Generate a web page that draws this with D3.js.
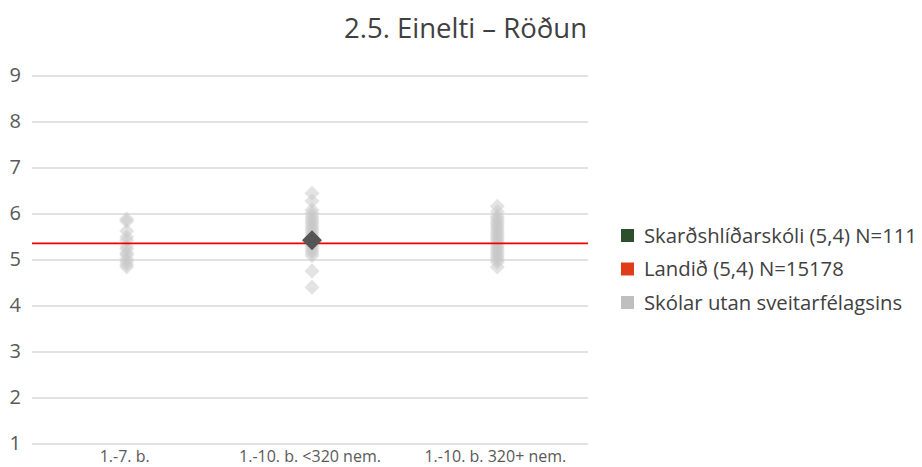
<!DOCTYPE html>
<html><head><meta charset="utf-8">
<script src="https://cdn.jsdelivr.net/npm/d3@7"></script>
<style>body{margin:0;background:#fff;}svg{display:block;font-family:"Open Sans","Noto Sans",sans-serif;}</style>
</head><body>
<svg id="c" width="922" height="467"></svg>
<script>
const title = "2.5. Einelti – Röðun";
const categories = ["1.-7. b.", "1.-10. b. <320 nem.", "1.-10. b. 320+ nem."];
const yTicks = [1,2,3,4,5,6,7,8,9];
const othersCat1 = [5.89, 5.84, 5.63, 5.5, 5.43, 5.3, 5.24, 5.15, 5.11, 5.02, 4.96, 4.9, 4.85];
const othersCat2 = [6.45, 6.28, 6.09, 6.02, 5.95, 5.9, 5.85, 5.8, 5.75, 5.7, 5.65, 5.6, 5.55, 5.5, 5.45, 5.4, 5.35, 5.3, 5.25, 5.2, 5.15, 5.09, 4.76, 4.41];
const othersCat3 = [6.17, 6.05, 5.95, 5.9, 5.85, 5.8, 5.75, 5.7, 5.65, 5.6, 5.55, 5.5, 5.45, 5.4, 5.35, 5.3, 5.25, 5.2, 5.15, 5.1, 5.05, 5.0, 4.95, 4.85];
const others = [othersCat1, othersCat2, othersCat3];
const schoolCat = "1.-10. b. <320 nem.";
const schoolValue = 5.43;
const nationValue = 5.36;
const legendLabels = ["Skarðshlíðarskóli (5,4) N=111", "Landið (5,4) N=15178", "Skólar utan sveitarfélagsins"];
const legendColors = ["#2d4f2b", "#e03c1a", "#bfbfbf"];

const svg = d3.select("#c");
const x = d3.scaleBand().domain(categories).range([32, 588]);
const y = d3.scaleLinear().domain([1, 9]).range([444, 76]);

svg.append("g").selectAll("line").data(yTicks).join("line")
  .attr("x1", 32).attr("x2", 588)
  .attr("y1", d => y(d)).attr("y2", d => y(d))
  .attr("stroke", "#d9d9d9").attr("stroke-width", 1.4);

svg.append("g").selectAll("text").data(yTicks).join("text")
  .attr("x", 21).attr("y", d => y(d) - 1).attr("dy", "0.35em")
  .attr("text-anchor", "end").attr("font-size", 20).attr("fill", "#595959")
  .text(d => d);

svg.append("g").selectAll("text").data(categories).join("text")
  .attr("x", d => x(d) + x.bandwidth()/2).attr("y", 462)
  .attr("text-anchor", "middle").attr("font-size", 16).attr("fill", "#595959")
  .text(d => d);

const diamond = (s) => `M0,${-s}L${s},0L0,${s}L${-s},0Z`;
const pts = [];
categories.forEach((c, i) => others[i].forEach(v => pts.push({c, v})));
svg.append("g").selectAll("path").data(pts).join("path")
  .attr("d", diamond(7.5))
  .attr("transform", d => `translate(${x(d.c) + x.bandwidth()/2 + 2},${y(d.v)})`)
  .attr("fill", "#c8c8c8").attr("fill-opacity", 0.5);

svg.append("line").attr("x1", 32).attr("x2", 588)
  .attr("y1", y(nationValue)).attr("y2", y(nationValue))
  .attr("stroke", "#ee0000").attr("stroke-width", 1.8);

svg.append("path").attr("d", diamond(10))
  .attr("transform", `translate(${x(schoolCat) + x.bandwidth()/2 + 2},${y(schoolValue)})`)
  .attr("fill", "#555555");

svg.append("text").attr("x", 587).attr("y", 38).attr("text-anchor", "end")
  .attr("font-size", 27.5).attr("fill", "#404040").text(title);

const lg = svg.append("g").selectAll("g").data(legendLabels).join("g")
  .attr("transform", (d, i) => `translate(621,${235.5 + i * 33.5})`);
lg.append("rect").attr("x", 0).attr("y", -6.5).attr("width", 13).attr("height", 13)
  .attr("fill", (d, i) => legendColors[i]);
lg.append("text").attr("x", 23).attr("y", 0).attr("dy", "0.35em")
  .attr("font-size", 20.3).attr("fill", "#404040").text(d => d);
</script>
</body></html>
